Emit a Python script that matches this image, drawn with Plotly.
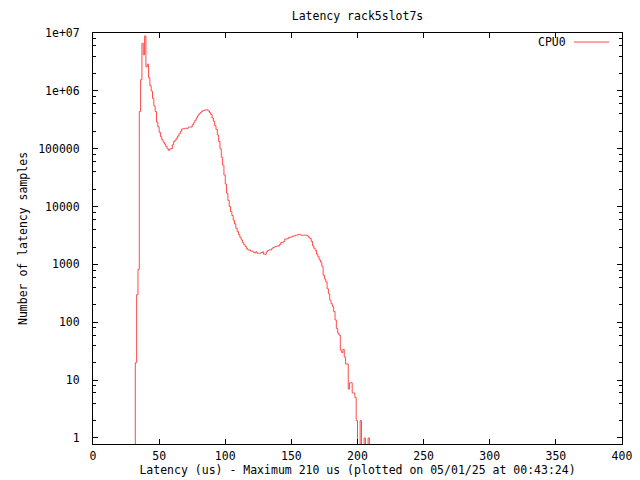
import plotly.graph_objects as go

latency_us = list(range(31, 211))
counts = [
    0, 20, 300, 820, 4.4e5, 1.56e6, 6.6e6, 4.2e6, 8.9e6, 2.6e6,          # 31-40
    2.9e6, 1.69e6, 1.23e6, 9.9e5, 7.4e5, 5.5e5, 4.4e5, 2.9e5, 2.4e5, 1.92e5,  # 41-50
    1.61e5, 1.43e5, 1.3e5, 1.2e5, 1.09e5, 1.0e5, 9.4e4, 9.9e4, 1.0e5, 1.17e5,  # 51-60
    1.33e5, 1.42e5, 1.52e5, 1.66e5, 1.81e5, 2.0e5, 2.2e5, 2.2e5, 2.25e5, 2.25e5,  # 61-70
    2.25e5, 2.37e5, 2.37e5, 2.37e5, 2.6e5, 2.8e5, 3.1e5, 3.4e5, 3.7e5, 4.0e5,  # 71-80
    4.2e5, 4.4e5, 4.6e5, 4.6e5, 4.7e5, 4.7e5, 4.5e5, 4.2e5, 3.9e5, 3.4e5,  # 81-90
    3.0e5, 2.5e5, 2.15e5, 1.73e5, 1.33e5, 1.0e5, 7.1e4, 5.2e4, 3.5e4, 2.45e4,  # 91-100
    1.7e4, 1.28e4, 1.0e4, 8.2e3, 7.0e3, 5.8e3, 5.0e3, 4.2e3, 3.7e3, 3.3e3,  # 101-110
    2.95e3, 2.66e3, 2.4e3, 2.2e3, 2.05e3, 1.88e3, 1.78e3, 1.78e3, 1.7e3, 1.7e3,  # 111-120
    1.63e3, 1.58e3, 1.65e3, 1.56e3, 1.56e3, 1.56e3, 1.6e3, 1.65e3, 1.5e3, 1.5e3,  # 121-130
    1.65e3, 1.74e3, 1.78e3, 1.78e3, 1.87e3, 1.96e3, 2.0e3, 2.05e3, 2.08e3, 2.08e3,  # 131-140
    2.2e3, 2.4e3, 2.4e3, 2.5e3, 2.75e3, 2.75e3, 2.8e3, 2.95e3, 2.95e3, 3.0e3,  # 141-150
    3.1e3, 3.1e3, 3.2e3, 3.2e3, 3.3e3, 3.3e3, 3.2e3, 3.2e3, 3.2e3, 3.2e3,  # 151-160
    3.2e3, 3.1e3, 2.95e3, 2.8e3, 2.5e3, 2.1e3, 1.9e3, 1.75e3, 1.5e3, 1.36e3,  # 161-170
    1.2e3, 1.1e3, 930, 650, 560, 500, 380, 310, 240, 210,  # 171-180
    186, 153, 110, 78, 65, 60, 33, 30, 34, 25,  # 181-190
    19, 19, 7, 9, 9, 6, 6, 5, 2, 0,  # 191-200
    0, 2, 0, 0, 1, 0, 0, 1, 0, 0,  # 201-210
]

x_ticks = [0, 50, 100, 150, 200, 250, 300, 350, 400]
y_ticks = [1, 10, 100, 1000, 10000, 100000, 1e6, 1e7]
y_tick_labels = ["1", "10", "100", "1000", "10000", "100000", "1e+06", "1e+07"]
y_minor = [m * 10 ** d for d in range(0, 7) for m in (2, 4, 6, 8)]

title_text = "Latency rack5slot7s"
x_title = "Latency (us) - Maximum 210 us (plotted on 05/01/25 at 00:43:24)"
y_title = "Number of latency samples"
series_name = "CPU0"
line_color = "#ff4a4a"

# zero counts cannot sit on a log axis: send them below the visible range
plot_counts = [c if c > 0 else 0.1 for c in counts]

FONT = "DejaVu Sans Mono"
# the page body adds an 8px margin, so the figure is drawn 8px smaller
W, H = 632, 472

fig = go.Figure()
fig.add_trace(go.Scatter(
    x=latency_us, y=plot_counts, mode="lines", line_shape="hv",
    line=dict(color=line_color, width=1), name=series_name, showlegend=False,
))

fig.update_layout(
    width=W, height=H,
    margin=dict(l=85, r=18, t=25, b=36, autoexpand=False),
    paper_bgcolor="white", plot_bgcolor="white",
    font=dict(family=FONT, size=11.5, color="black"),
    title=dict(text=title_text, x=(85 + 529 / 2) / W, xanchor="center", y=1 - 8 / H,
               yanchor="middle", font=dict(family=FONT, size=11.5, color="black")),
    xaxis=dict(
        range=[0, 400], tickvals=x_ticks, ticks="inside", ticklen=5,
        tickcolor="black", showline=True, linecolor="black", linewidth=1,
        mirror="ticks", showgrid=False, zeroline=False, automargin=False,
        title=dict(text=x_title, standoff=4, font=dict(family=FONT, size=11.5)),
        ticklabelstandoff=1,
    ),
    yaxis=dict(
        type="log", range=[-0.104, 7], tickvals=y_ticks, ticktext=y_tick_labels,
        ticks="inside", ticklen=5, tickcolor="black",
        showline=True, linecolor="black", linewidth=1, mirror="ticks",
        showgrid=False, zeroline=False, automargin=False,
        minor=dict(tickvals=y_minor, ticks="inside", ticklen=3, tickcolor="black", showgrid=False),
        title=dict(text=y_title, standoff=8, font=dict(family=FONT, size=11.5)),
        ticklabelstandoff=10,
    ),
)

# gnuplot-style key: label on the left, line sample on the right
fig.add_annotation(xref="paper", yref="paper", x=0.898, y=0.978, text=series_name,
                   showarrow=False, xanchor="right", yanchor="middle",
                   font=dict(family=FONT, size=11.5, color="black"))
fig.add_shape(type="line", xref="paper", yref="paper", x0=0.909, x1=0.9754,
              y0=0.978, y1=0.978, line=dict(color=line_color, width=1))

fig.write_html("out.html")
